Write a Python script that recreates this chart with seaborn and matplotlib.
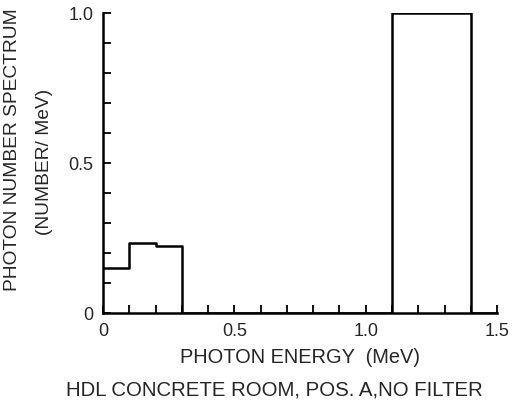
import numpy as np
import pandas as pd
import seaborn as sns
import matplotlib.pyplot as plt
from matplotlib.ticker import MultipleLocator

# bin edges (MeV) and spectrum height per bin
bin_edges = [0.0, 0.1, 0.2, 0.3, 0.4, 0.5, 0.6, 0.7, 0.8, 0.9, 1.0, 1.1, 1.2, 1.3, 1.4, 1.5]
spectrum = [0.15, 0.235, 0.222, 0, 0, 0, 0, 0, 0, 0, 0, 1.0, 1.0, 1.0, 0]

x_ticks = [0, 0.5, 1.0, 1.5]
x_ticklabels = ["0", "0.5", "1.0", "1.5"]
y_ticks = [0, 0.5, 1.0]
y_ticklabels = ["0", "0.5", "1.0"]

sns.set_style("ticks")
plt.rcParams["font.family"] = ["Liberation Sans", "DejaVu Sans"]

centers = [(a + b) / 2 for a, b in zip(bin_edges[:-1], bin_edges[1:])]
df = pd.DataFrame({"energy": centers, "spectrum": spectrum})

fig = plt.figure(figsize=(5.13, 4.03), dpi=100)
ax = fig.add_axes([0.2008, 0.2233, 0.7682, 0.7444])

sns.histplot(data=df, x="energy", weights="spectrum", bins=bin_edges,
             element="step", fill=False, color="black", linewidth=1.8, ax=ax)

ax.set_xlim(0, 1.5)
ax.set_ylim(0, 1.0)
ax.set_xticks(x_ticks)
ax.set_xticklabels(x_ticklabels)
ax.set_yticks(y_ticks)
ax.set_yticklabels(y_ticklabels)
ax.xaxis.set_minor_locator(MultipleLocator(0.1))
ax.yaxis.set_minor_locator(MultipleLocator(0.1))
ax.tick_params(which="both", direction="in", color="black", width=1.3)
ax.tick_params(which="major", length=6, labelsize=13, pad=7)
ax.tick_params(which="minor", length=6)

for side in ["top", "right"]:
    ax.spines[side].set_visible(False)
for side in ["left", "bottom"]:
    ax.spines[side].set_linewidth(1.8)
    ax.spines[side].set_color("black")

ax.set_xlabel("PHOTON ENERGY  (MeV)", fontsize=14.4, labelpad=6)
ax.set_ylabel("")
# the two y-label lines sit at slightly different heights in the original
fig.text(13 / 513, 1 - 150 / 403, "PHOTON NUMBER SPECTRUM", fontsize=13.8,
         rotation=90, ha="center", va="center")
fig.text(45 / 513, 1 - 162 / 403, "(NUMBER/ MeV)", fontsize=13.8,
         rotation=90, ha="center", va="center")
fig.text(0.534, 0.032, "HDL CONCRETE ROOM, POS. A,NO FILTER", fontsize=14.7,
         ha="center", va="center")

plt.savefig("out.png", dpi=100)
